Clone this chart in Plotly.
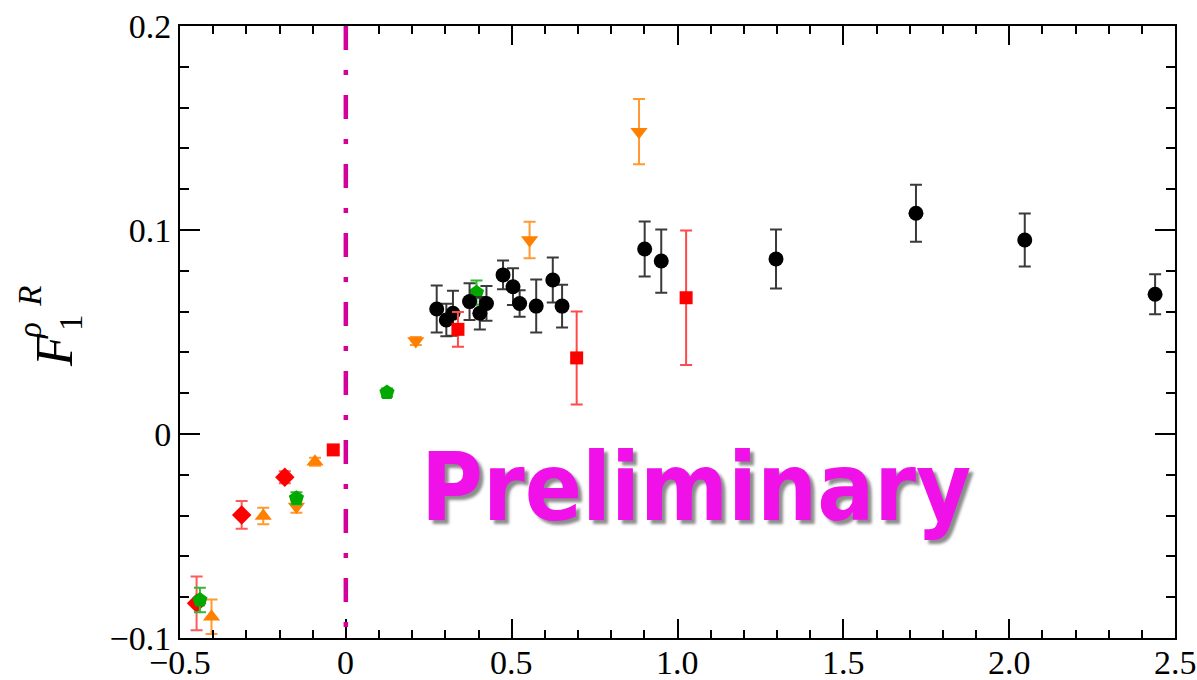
import plotly.graph_objects as go

# ---- data -------------------------------------------------------------
black_x = [0.274, 0.303, 0.323, 0.373, 0.404, 0.424, 0.474, 0.504, 0.524, 0.574,
           0.624, 0.652, 0.901, 0.951, 1.297, 1.719, 2.047, 2.440]
black_y = [0.0613, 0.0559, 0.0592, 0.0649, 0.0592, 0.0640, 0.0780, 0.0722, 0.0640, 0.0627,
           0.0755, 0.0627, 0.0907, 0.0848, 0.0858, 0.1082, 0.0951, 0.0685]
black_err = [0.0115, 0.008, 0.011, 0.009, 0.008, 0.0085, 0.007, 0.009, 0.0065, 0.013,
             0.011, 0.0105, 0.0135, 0.0155, 0.0145, 0.014, 0.013, 0.0098]

red_sq_x = [-0.038, 0.338, 0.696, 1.026]
red_sq_y = [-0.0078, 0.0513, 0.0373, 0.0668]
red_sq_err = [0.002, 0.0085, 0.0228, 0.033]

red_dia_x = [-0.450, -0.314, -0.184]
red_dia_y = [-0.0830, -0.0397, -0.0212]
red_dia_err = [0.0132, 0.0068, 0.003]

orange_up_x = [-0.405, -0.249, -0.093]
orange_up_y = [-0.0896, -0.0402, -0.0136]
orange_up_err = [0.0085, 0.004, 0.002]

orange_dn_x = [-0.149, 0.211, 0.554, 0.884]
orange_dn_y = [-0.0356, 0.0456, 0.0951, 0.1482]
orange_dn_err = [0.003, 0.002, 0.009, 0.016]

green_x = [-0.440, -0.149, 0.124, 0.394]
green_y = [-0.0814, -0.0315, 0.0203, 0.0693]
green_err = [0.006, 0.003, 0.002, 0.006]

x_ticks = [-0.5, 0, 0.5, 1.0, 1.5, 2.0, 2.5]
x_labels = ["\u22120.5", "0", "0.5", "1.0", "1.5", "2.0", "2.5"]
y_ticks = [-0.1, 0, 0.1, 0.2]
y_labels = ["\u22120.1", "0", "0.1", "0.2"]

# ---- figure -----------------------------------------------------------
fig = go.Figure()


def add_series(x, y, err, symbol, color, err_color, size):
    fig.add_trace(go.Scatter(
        x=x, y=y, mode="markers",
        marker=dict(symbol=symbol, size=size, color=color, line=dict(width=0)),
        error_y=dict(type="data", array=err, visible=True, color=err_color,
                     thickness=2, width=6),
        showlegend=False,
    ))


add_series(red_dia_x, red_dia_y, red_dia_err, "diamond", "#ff0000", "#ff5a5a", 15)
add_series(orange_up_x, orange_up_y, orange_up_err, "triangle-up", "#ff8000", "#ff9a33", 15)
add_series(orange_dn_x, orange_dn_y, orange_dn_err, "triangle-down", "#ff8000", "#ff9a33", 15)
add_series(green_x, green_y, green_err, "pentagon", "#00a800", "#33b833", 16)
add_series(black_x, black_y, black_err, "circle", "#000000", "#3a3a3a", 15)
add_series(red_sq_x, red_sq_y, red_sq_err, "square", "#ff0000", "#ff4a4a", 13)

# vertical dash-dot marker at x = 0
fig.add_shape(type="line", xref="x", yref="y", x0=0, x1=0, y0=0.2, y1=-0.1,
              line=dict(color="#d3009a", width=4.5, dash="24px,20px,5px,20px"))

# watermark
fig.add_annotation(
    x=1.057, y=-0.026, xref="x", yref="y", showarrow=False,
    text="<b>Preliminary</b>",
    font=dict(family="DejaVu Sans Condensed", size=94, color="#f010e8",
              shadow="4px 4px 3px rgba(0,0,0,0.45)"),
)

label_font = "Liberation Serif"
PLOT_TOP, PLOT_BOTTOM, PLOT_LEFT = 26, 638, 180

# x tick labels, set tight under the axis
for xv, lab in zip(x_ticks, x_labels):
    fig.add_annotation(x=xv, y=0, xref="x", yref="paper", xanchor="center",
                       yanchor="top", yshift=-4, showarrow=False, text=lab,
                       font=dict(family=label_font, size=34, color="black"))


# y-axis symbol F_1^{rho R} built from stacked pieces
def ylab(text, px, py, size):
    fig.add_annotation(xref="paper", yref="paper", x=0,
                       y=(PLOT_BOTTOM - py) / (PLOT_BOTTOM - PLOT_TOP),
                       xshift=px - PLOT_LEFT, xanchor="center", yanchor="middle",
                       showarrow=False, textangle=-90, text=text,
                       font=dict(family=label_font, size=size, color="black"))


ylab("<i>F</i>", 54, 350, 52)
ylab("1", 71, 323, 33)
ylab("<i>\u03c1  R</i>", 30, 312, 33)

axis_common = dict(
    showgrid=False, zeroline=False, showline=True, linewidth=2, linecolor="black",
    mirror="allticks", ticks="inside", tickwidth=2, tickcolor="black",
    automargin=False,
    tickfont=dict(family=label_font, size=34, color="black"),
)

fig.update_xaxes(
    range=[-0.5, 2.5], tickmode="array", tickvals=x_ticks, showticklabels=False,
    ticklen=19,
    minor=dict(tickmode="linear", tick0=0, dtick=0.1, ticks="inside", ticklen=8,
               tickwidth=2, tickcolor="black"),
    **axis_common,
)
fig.update_yaxes(
    range=[-0.1, 0.2], tickmode="array", tickvals=y_ticks, ticktext=y_labels,
    ticklen=20,
    minor=dict(tickmode="linear", tick0=0, dtick=0.02, ticks="inside", ticklen=9,
               tickwidth=2, tickcolor="black"),
    **axis_common,
)

fig.update_layout(
    width=1197, height=680,
    margin=dict(l=PLOT_LEFT, r=22, t=PLOT_TOP, b=680 - PLOT_BOTTOM),
    plot_bgcolor="white", paper_bgcolor="white",
)

fig.write_html("out.html")
